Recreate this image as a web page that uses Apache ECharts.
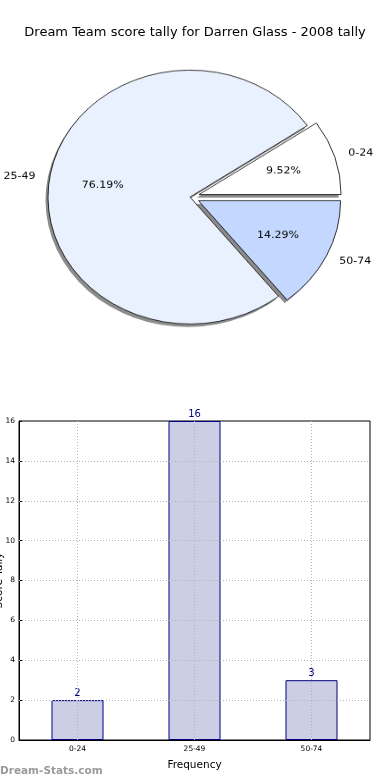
<!DOCTYPE html>
<html><head><meta charset="utf-8">
<script src="https://cdn.jsdelivr.net/npm/echarts@6/dist/echarts.min.js"></script>
<style>
html,body{margin:0;padding:0;background:#fff;}
#main{position:absolute;left:0;top:0;width:390px;height:780px;}
#pie{position:absolute;left:0;top:0;width:390px;height:440px;transform:scaleY(0.894);transform-origin:0 0;}
</style></head>
<body>
<div id="main"></div>
<div id="pie"></div>
<script>
const title = 'Dream Team score tally for Darren Glass - 2008 tally';
const categories = ['0-24', '25-49', '50-74'];
const counts = [2, 16, 3];
const exploded = [true, false, true];
const sliceColors = ['#ffffff', '#eaf1fe', '#c4d8ff'];
const yTicks = [0, 2, 4, 6, 8, 10, 12, 14, 16];

const FONT = 'DejaVu Sans';
const R = 142;
const OFF = 9.5;
const center = [190, 220.4];
const shadowCenter = [187.5, 223.8];

function pieData(kind) {
  return categories.map((c, i) => {
    const d = { name: c, value: counts[i], selected: exploded[i] };
    if (kind === 'main') {
      d.itemStyle = { color: sliceColors[i] };
      d.select = { itemStyle: { color: sliceColors[i], borderColor: '#000', borderWidth: 0.8 } };
    }
    return d;
  });
}
const transparentStyle = { color: 'rgba(0,0,0,0)', borderWidth: 0 };
const shadowStyle = { color: '#8c8c8c', borderWidth: 0 };

const common = {
  type: 'pie', startAngle: 0, clockwise: false,
  selectedMode: 'multiple', selectedOffset: OFF, silent: true,
  avoidLabelOverlap: false, emphasis: { disabled: true }
};

const pie = echarts.init(document.getElementById('pie'), null, { renderer: 'canvas' });
pie.setOption({
  animation: false,
  series: [
    Object.assign({}, common, {
      center: shadowCenter, radius: [0, R], z: 1,
      itemStyle: shadowStyle, select: { itemStyle: shadowStyle },
      label: { show: false }, labelLine: { show: false },
      data: pieData('shadow')
    }),
    Object.assign({}, common, {
      center: center, radius: [0, R], z: 2,
      itemStyle: { borderColor: '#000', borderWidth: 0.8 },
      label: { show: false }, labelLine: { show: false },
      data: pieData('main')
    }),
    Object.assign({}, common, {
      center: center, radius: [0, R * 1.2], z: 5, percentPrecision: 2,
      itemStyle: transparentStyle, select: { itemStyle: transparentStyle },
      label: { show: true, position: 'inside', formatter: '{d}%', fontFamily: FONT, fontSize: 11, color: '#000' },
      labelLine: { show: false },
      data: pieData('pct')
    }),
    Object.assign({}, common, {
      center: center, radius: [0, R * 1.1], z: 5,
      itemStyle: transparentStyle, select: { itemStyle: transparentStyle },
      label: { show: true, position: 'outside', formatter: '{b}', fontFamily: FONT, fontSize: 11, color: '#000', distanceToLabelLine: 0 },
      labelLine: { show: false, length: 0, length2: 0 },
      data: pieData('name')
    })
  ]
});

const gridLine = { color: '#b4b4b4', type: [1, 2], width: 1 };
const markData = [];
yTicks.forEach(v => { if (v > 0 && v < 16) markData.push({ yAxis: v }); });
categories.forEach(c => markData.push({ xAxis: c }));

const chart = echarts.init(document.getElementById('main'), null, { renderer: 'canvas' });
chart.setOption({
  animation: false,
  title: {
    text: title, left: 'center', top: 21,
    textStyle: { fontFamily: FONT, fontSize: 13, fontWeight: 'normal', color: '#000' }
  },
  graphic: [{
    type: 'text', left: 0, top: 766,
    style: { text: 'Dream-Stats.com', fontFamily: FONT, fontSize: 10.5, fontWeight: 'bold', fill: '#9a9a9a' }
  }],
  grid: { left: 19, right: 20, top: 421, bottom: 40, outerBoundsMode: 'none', containLabel: false, show: true, borderColor: '#000', borderWidth: 1, backgroundColor: 'rgba(0,0,0,0)' },
  xAxis: {
    type: 'category', data: categories,
    name: 'Frequency', nameLocation: 'middle', nameGap: 20,
    nameTextStyle: { fontFamily: FONT, fontSize: 10.5, color: '#000' },
    axisLine: { lineStyle: { color: '#000' } },
    axisTick: { show: false },
    axisLabel: { fontFamily: FONT, fontSize: 7.5, color: '#000', margin: 5 },
    splitLine: { show: false }
  },
  yAxis: {
    type: 'value', min: 0, max: 16, interval: 2,
    name: 'Score Tally', nameLocation: 'middle', nameGap: 14, nameRotate: 90, nameMoveOverlap: false,
    nameTextStyle: { fontFamily: FONT, fontSize: 10.5, color: '#000' },
    axisLine: { show: true, lineStyle: { color: '#000' } },
    axisTick: { show: true, inside: true, length: 3, lineStyle: { color: '#000' } },
    axisLabel: { fontFamily: FONT, fontSize: 7.5, color: '#000', margin: 4 },
    splitLine: { show: false }
  },
  series: [{
    type: 'bar', data: counts, barWidth: 52,
    itemStyle: { color: '#cccee6', borderColor: '#000080', borderWidth: 1 },
    label: { show: true, position: 'top', distance: 2, color: '#000080', fontFamily: FONT, fontSize: 10 },
    markLine: {
      silent: true, symbol: 'none', label: { show: false },
      lineStyle: gridLine, emphasis: { disabled: true },
      data: markData
    }
  }]
});
</script>
</body></html>
